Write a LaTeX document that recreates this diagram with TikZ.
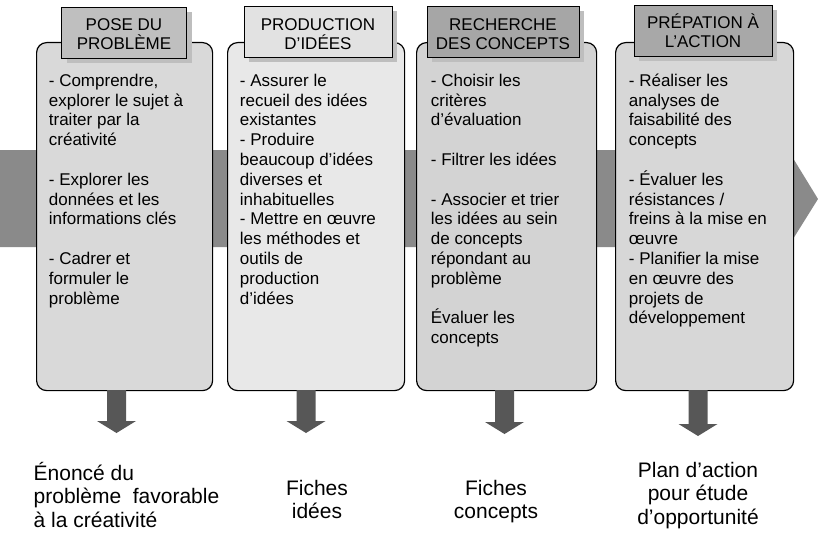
\documentclass[tikz,border=0pt]{standalone}
\usepackage{fontspec}
\setmainfont{Liberation Sans}
\usetikzlibrary{shadows}
\definecolor{bandgray}{HTML}{8A8A8A}
\definecolor{arrowgray}{HTML}{575757}
\definecolor{boxA}{HTML}{D9D9D9}
\definecolor{boxB}{HTML}{E8E8E8}
\definecolor{boxC}{HTML}{D3D3D3}
\definecolor{boxD}{HTML}{D7D7D7}
\definecolor{titA}{HTML}{BFBFBF}
\definecolor{titB}{HTML}{E2E2E2}
\definecolor{titC}{HTML}{A6A6A6}
\definecolor{titD}{HTML}{A8A8A8}
\definecolor{shadowgray}{HTML}{BEBEBE}
\begin{document}
\begin{tikzpicture}[x=1pt,y=-1pt,
  procbox/.style={draw=black, line width=1.2pt, rounded corners=10pt, inner sep=0pt,
    minimum height=348pt, anchor=north west},
  titlebox/.style={draw=black, line width=0.9pt, inner sep=0pt, align=center,
    minimum height=51pt, font=\fontsize{17}{19}\selectfont,
    drop shadow={shadow xshift=5pt, shadow yshift=-5pt, fill=shadowgray, opacity=1}},
  bodytext/.style={inner sep=0pt, anchor=north west, align=left,
    font=\fontsize{17}{19.8}\selectfont},
  outtext/.style={inner sep=0pt, font=\fontsize{21}{23.4}\selectfont},
  dnarrow/.style={fill=arrowgray}
]
\useasboundingbox (0,0) rectangle (818,532);

% background band arrow
\fill[bandgray] (0,150) -- (788,150) -- (818,199) -- (788,247) -- (0,247) -- cycle;

% process boxes
\node[procbox, fill=boxA, minimum width=176pt] (b1) at (36,42) {};
\node[procbox, fill=boxB, minimum width=177pt] (b2) at (227,42) {};
\node[procbox, fill=boxC, minimum width=180pt] (b3) at (416,42) {};
\node[procbox, fill=boxD, minimum width=178pt] (b4) at (615,42) {};

% titles
\node[titlebox, fill=titA, minimum width=125pt] (t1) at (124,32.5) {\rule{0pt}{16pt}POSE DU\\PROBLÈME};
\node[titlebox, fill=titB, minimum width=148pt] (t2) at (318,32) {\rule{0pt}{16pt}PRODUCTION\\D’IDÉES};
\node[titlebox, fill=titC, minimum width=152pt] (t3) at (503,32) {\rule{0pt}{16pt}RECHERCHE\\DES CONCEPTS};
\node[titlebox, fill=titD, minimum width=138pt] (t4) at (703,30.5) {\rule{0pt}{16pt}PRÉPATION À\\L’ACTION};

% body texts
\node[bodytext] (x1) at (48.7,73) {\rule{0pt}{13pt}- Comprendre,\\explorer le sujet à\\traiter par la\\créativité\\[19.8pt]- Explorer les\\données et les\\informations clés\\[19.8pt]- Cadrer et\\formuler le\\problème};
\node[bodytext] (x2) at (239.7,73) {\rule{0pt}{13pt}- Assurer le\\recueil des idées\\existantes\\- Produire\\beaucoup d’idées\\diverses et\\inhabituelles\\- Mettre en œuvre\\les méthodes et\\outils de\\production\\d’idées};
\node[bodytext] (x3) at (430.7,73) {\rule{0pt}{13pt}- Choisir les\\critères\\d’évaluation\\[19.8pt]- Filtrer les idées\\[19.8pt]- Associer et trier\\les idées au sein\\de concepts\\répondant au\\problème\\[19.8pt]Évaluer les\\concepts};
\node[bodytext] (x4) at (628.7,73) {\rule{0pt}{13pt}- Réaliser les\\analyses de\\faisabilité des\\concepts\\[19.8pt]- Évaluer les\\résistances /\\freins à la mise en\\œuvre\\- Planifier la mise\\en œuvre des\\projets de\\développement};

% output arrows
\fill[dnarrow] (107,390) -- (126,390) -- (126,421) -- (136,421) -- (116.5,433) -- (97,421) -- (107,421) -- cycle;
\fill[dnarrow] (296.5,390) -- (315.5,390) -- (315.5,421) -- (325.5,421) -- (306,433) -- (286.5,421) -- (296.5,421) -- cycle;
\fill[dnarrow] (495,390) -- (514,390) -- (514,422) -- (524,422) -- (504.5,434) -- (485,422) -- (495,422) -- cycle;
\fill[dnarrow] (688.5,390) -- (707.5,390) -- (707.5,424) -- (717.5,424) -- (698,436) -- (678.5,424) -- (688.5,424) -- cycle;

% outputs
\node[outtext, anchor=north west, align=left] (o1) at (33.5,460) {\rule{0pt}{20pt}Énoncé du\\problème~ favorable\\à la créativité};
\node[outtext, anchor=north, align=center] (o2) at (317,475) {\rule{0pt}{20pt}Fiches\\idées};
\node[outtext, anchor=north, align=center] (o3) at (496,475) {\rule{0pt}{20pt}Fiches\\concepts};
\node[outtext, anchor=north, align=center] (o4) at (698,457) {\rule{0pt}{20pt}Plan d’action\\pour étude\\d’opportunité};
\end{tikzpicture}
\end{document}
